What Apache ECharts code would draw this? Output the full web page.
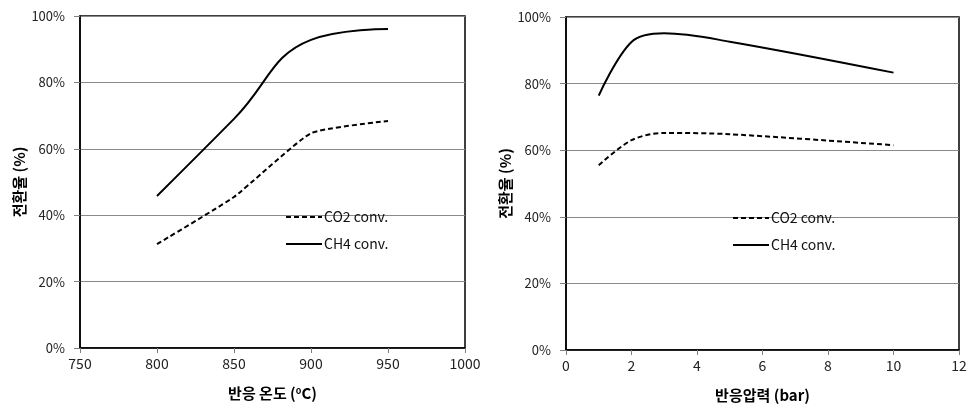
<!DOCTYPE html>
<html>
<head>
<meta charset="utf-8">
<script src="https://cdn.jsdelivr.net/npm/echarts@6/dist/echarts.min.js"></script>
<style>
html,body{margin:0;padding:0;background:#fff;}
#c{width:976px;height:409px;}
</style>
</head>
<body>
<div id="c"></div>
<script>
// Left chart: reaction temperature (°C)
const tempX = [800, 850, 900, 950];
const tempCO2 = [31.3, 45.5, 64.7, 68.4];
const tempCH4 = [45.8, 69.0, 92.8, 96.1];
// Right chart: reaction pressure (bar)
const presX = [1, 2, 3, 5, 10];
const presCO2 = [55.5, 63.0, 65.2, 64.8, 61.5];
const presCH4 = [76.4, 92.5, 95.1, 92.6, 83.3];
const yTicks = [0, 20, 40, 60, 80, 100];
const seriesNames = ['CO2 conv.', 'CH4 conv.'];

const FONT = 'Noto Sans CJK KR';
const zip = (xs, ys) => xs.map((x, i) => [x, ys[i]]);

function yAxis(gi) {
  return {
    gridIndex: gi, type: 'value', min: yTicks[0], max: yTicks[yTicks.length - 1], interval: 20,
    name: '전환율 (%)', nameLocation: 'middle', nameGap: 53,
    nameTextStyle: { fontFamily: FONT, fontWeight: 'bold', fontSize: 15, color: '#000' },
    axisLine: { show: true, lineStyle: { color: '#000', width: 1.5 } },
    axisTick: { show: true, inside: false, length: 6, lineStyle: { color: '#808080' } },
    axisLabel: { formatter: v => v + '%', fontFamily: FONT, fontSize: 13, color: '#222', margin: 15 },
    splitLine: { show: true, lineStyle: { color: '#8a8a8a', width: 1 } }
  };
}
function xAxis(gi, min, max, interval, name, rich) {
  return {
    gridIndex: gi, type: 'value', min: min, max: max, interval: interval,
    name: name, nameLocation: 'middle', nameGap: 38,
    nameTextStyle: { fontFamily: FONT, fontWeight: 'bold', fontSize: 15, color: '#000', rich: rich || {} },
    axisLine: { show: true, onZero: false, lineStyle: { color: '#000', width: 1.5 } },
    axisTick: { show: true, inside: false, length: 5, lineStyle: { color: '#808080' } },
    axisLabel: { formatter: v => String(v), fontFamily: FONT, fontSize: 14, color: '#222', margin: 9 },
    splitLine: { show: false }
  };
}
function lineSeries(name, gi, data, dashed, smooth) {
  return {
    name: name, type: 'line', xAxisIndex: gi, yAxisIndex: gi,
    data: data, symbol: 'none', smooth: smooth,
    lineStyle: { color: '#000', width: 2, type: dashed ? [5, 3] : 'solid' },
    itemStyle: { color: '#000' }
  };
}
function legend(left, top) {
  return {
    left: left, top: top, orient: 'vertical', itemWidth: 36, itemHeight: 14, itemGap: 13,
    padding: 0,
    data: seriesNames,
    selectedMode: false,
    textStyle: { fontFamily: FONT, fontSize: 14, color: '#111', padding: [0, 0, 0, -3] },
    itemStyle: { opacity: 0 }
  };
}

const chart = echarts.init(document.getElementById('c'), null, { renderer: 'canvas' });
chart.setOption({
  animation: false,
  backgroundColor: '#fff',
  grid: [
    { left: 80, right: 511, top: 16, bottom: 61, show: true, borderColor: '#000', borderWidth: 1.5, containLabel: false },
    { left: 566, right: 17, top: 17, bottom: 59, show: true, borderColor: '#000', borderWidth: 1.5, containLabel: false }
  ],
  xAxis: [
    xAxis(0, 750, 1000, 50, '반응 온도 ({sup|o}C)', { sup: { fontSize: 9, fontWeight: 'bold', fontFamily: FONT, color: '#000', verticalAlign: 'top', padding: [0, 0, 6, 0] } }),
    xAxis(1, 0, 12, 2, '반응압력 (bar)')
  ],
  yAxis: [yAxis(0), yAxis(1)],
  legend: [
    Object.assign(legend(285, 210), { id: 'l0' }),
    Object.assign(legend(732, 211), { id: 'l1' })
  ],
  series: [
    lineSeries(seriesNames[0], 0, zip(tempX, tempCO2), true, 0.15),
    lineSeries(seriesNames[1], 0, zip(tempX, tempCH4), false, 0.45),
    lineSeries(seriesNames[0], 1, zip(presX, presCO2), true, 0.3),
    lineSeries(seriesNames[1], 1, zip(presX, presCH4), false, 0.35)
  ]
});
</script>
</body>
</html>
